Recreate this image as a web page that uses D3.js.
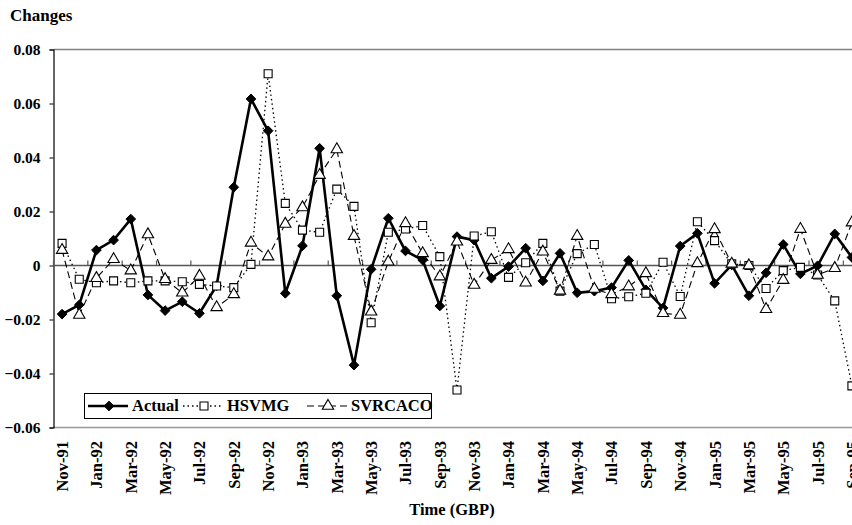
<!DOCTYPE html>
<html>
<head>
<meta charset="utf-8">
<script src="https://cdn.jsdelivr.net/npm/d3@7"></script>
<style>
  body { margin: 0; background: #fff; }
  svg { display: block; font-family: "Liberation Serif", "Times New Roman", serif; font-weight: bold; }
</style>
</head>
<body>
<svg width="852" height="525"></svg>
<script>
var svg = d3.select("svg");

// months, Nov-91 .. Sep-95
var categories = ["Nov-91","Dec-91","Jan-92","Feb-92","Mar-92","Apr-92","May-92","Jun-92","Jul-92","Aug-92",
  "Sep-92","Oct-92","Nov-92","Dec-92","Jan-93","Feb-93","Mar-93","Apr-93","May-93","Jun-93",
  "Jul-93","Aug-93","Sep-93","Oct-93","Nov-93","Dec-93","Jan-94","Feb-94","Mar-94","Apr-94",
  "May-94","Jun-94","Jul-94","Aug-94","Sep-94","Oct-94","Nov-94","Dec-94","Jan-95","Feb-95",
  "Mar-95","Apr-95","May-95","Jun-95","Jul-95","Aug-95","Sep-95"];

var actual = [-0.018,-0.0146,0.0057,0.0094,0.0172,-0.0109,-0.0167,-0.0134,-0.0177,-0.0075,
  0.029,0.0617,0.0499,-0.0103,0.0073,0.0434,-0.0112,-0.0369,-0.0014,0.0175,
  0.0054,0.002,-0.015,0.0107,0.0094,-0.0047,-0.0004,0.0064,-0.0057,0.0045,
  -0.0101,-0.0095,-0.0082,0.0019,-0.009,-0.0157,0.0072,0.0119,-0.0066,0.0002,
  -0.0112,-0.0027,0.0078,-0.0031,-0.0001,0.0117,0.003];

var hsvmg = [0.0082,-0.0051,-0.0064,-0.0057,-0.0064,-0.0057,-0.0057,-0.006,-0.007,-0.0076,
  -0.0082,0.0004,0.071,0.023,0.0131,0.0123,0.0283,0.0219,-0.0212,0.0123,
  0.0135,0.0148,0.0033,-0.0461,0.0109,0.0125,-0.0044,0.001,0.0082,-0.0095,
  0.0044,0.0078,-0.0123,-0.0116,-0.0103,0.0012,-0.0115,0.0162,0.0092,0.0006,
  0.0,-0.0085,-0.0019,-0.0007,-0.0035,-0.0131,-0.0446];

var svrcaco = [0.0057,-0.0183,-0.0047,0.0023,-0.0019,0.0115,-0.0051,-0.0101,-0.0039,-0.0155,
  -0.0107,0.0084,0.0033,0.0154,0.0215,0.0335,0.043,0.0109,-0.0171,0.0014,
  0.0156,0.0045,-0.0041,0.0088,-0.0072,0.002,0.006,-0.0064,0.0051,-0.0094,
  0.0109,-0.0087,-0.0107,-0.0078,-0.0029,-0.0177,-0.0183,0.0008,0.0134,0.0006,
  0.0,-0.0162,-0.0054,0.0135,-0.0035,-0.001,0.0159];

var yTicks = [-0.06,-0.04,-0.02,0,0.02,0.04,0.06,0.08];

var plotLeft = 53.5, plotTop = 49.5, plotBottom = 427.5, plotRight = 860.5;

var x = d3.scaleBand().domain(categories).range([plotLeft, plotRight]);
var y = d3.scaleLinear().domain([-0.06, 0.08]).range([plotBottom, plotTop]);
function cx(i) { return x(categories[i]) + x.bandwidth() / 2; }

// frame
svg.append("line").attr("x1", plotLeft).attr("x2", 852).attr("y1", plotTop).attr("y2", plotTop)
   .attr("stroke", "#808080").attr("stroke-width", 1.5);
svg.append("line").attr("x1", plotLeft).attr("x2", 852).attr("y1", plotBottom).attr("y2", plotBottom)
   .attr("stroke", "#999").attr("stroke-width", 1.5);

// y axis
var yAxis = svg.append("g")
   .attr("transform", "translate(" + plotLeft + ",0)")
   .call(d3.axisLeft(y).tickValues(yTicks).tickSize(4).tickPadding(9)
     .tickFormat(function(d) { return d === 0 ? "0" : d3.format(".2f")(d); }));
yAxis.select(".domain").attr("stroke", "#000").attr("stroke-width", 1.2);
yAxis.selectAll("text").style("font-size", "15.5px").attr("fill", "#000");
yAxis.attr("font-family", null).attr("font-size", null);

// zero line + ticks every two months
svg.append("line").attr("x1", plotLeft).attr("x2", 852).attr("y1", y(0)).attr("y2", y(0))
   .attr("stroke", "#555").attr("stroke-width", 1.5);
var tickCats = categories.filter(function(d, i) { return i % 2 == 0; });
svg.append("g").selectAll("line").data(tickCats).enter().append("line")
   .attr("x1", function(d) { return x(d); })
   .attr("x2", function(d) { return x(d); })
   .attr("y1", y(0) - 5).attr("y2", y(0))
   .attr("stroke", "#555").attr("stroke-width", 1.2);

// month labels
svg.append("g").selectAll("text").data(tickCats).enter().append("text")
   .attr("transform", function(d) { return "translate(" + (x(d) + x.bandwidth() / 2) + ",441) rotate(-90)"; })
   .attr("dy", "0.36em")
   .attr("text-anchor", "end")
   .style("font-size", "16.5px")
   .text(function(d) { return d; });

// titles
svg.append("text").attr("x", 10).attr("y", 21).style("font-size", "17px").text("Changes");
svg.append("text").attr("x", 452).attr("y", 515).attr("text-anchor", "middle")
   .style("font-size", "16.5px").text("Time (GBP)");

var series = [
  {name: "Actual", values: actual, dash: null, width: 2.6, marker: "diamond"},
  {name: "HSVMG", values: hsvmg, dash: "1.5,3", width: 1.3, marker: "square"},
  {name: "SVRCACO", values: svrcaco, dash: "7,4", width: 1.1, marker: "triangle"}
];

var line = d3.line().x(function(d, i) { return cx(i); }).y(function(d) { return y(d); });

function symbolPath(type) {
  if (type == "diamond") return d3.symbol().type(d3.symbolDiamond2).size(60)();
  if (type == "square") return d3.symbol().type(d3.symbolSquare).size(64)();
  return d3.symbol().type(d3.symbolTriangle).size(56)();
}
function styleMarker(sel, type) {
  if (type == "diamond") sel.attr("fill", "#000").attr("stroke", "#000").attr("stroke-width", 1);
  else sel.attr("fill", "#fff").attr("stroke", "#000").attr("stroke-width", 1.1);
}

series.forEach(function(s) {
  svg.append("path").datum(s.values)
     .attr("d", line)
     .attr("fill", "none")
     .attr("stroke", "#000")
     .attr("stroke-width", s.width)
     .attr("stroke-dasharray", s.dash);
});

series.forEach(function(s) {
  var m = svg.append("g").selectAll("path").data(s.values).enter().append("path")
     .attr("d", symbolPath(s.marker))
     .attr("transform", function(d, i) { return "translate(" + cx(i) + "," + y(d) + ")"; });
  styleMarker(m, s.marker);
});

// legend
var legend = svg.append("g");
legend.append("rect").attr("x", 84.5).attr("y", 393.5).attr("width", 347).attr("height", 25)
   .attr("fill", "#fff").attr("stroke", "#000").attr("stroke-width", 1);
var legX = [88, 183, 307];
series.forEach(function(s, i) {
  var g = legend.append("g").attr("transform", "translate(" + legX[i] + ",406)");
  g.append("line").attr("x1", 0).attr("x2", 40).attr("y1", 0).attr("y2", 0)
   .attr("stroke", "#000").attr("stroke-width", s.width).attr("stroke-dasharray", s.dash);
  var m = g.append("path").attr("d", symbolPath(s.marker)).attr("transform", "translate(21,0)");
  styleMarker(m, s.marker);
  g.append("text").attr("x", 44).attr("dy", "0.33em").style("font-size", "16.5px").text(s.name);
});
</script>
</body>
</html>
